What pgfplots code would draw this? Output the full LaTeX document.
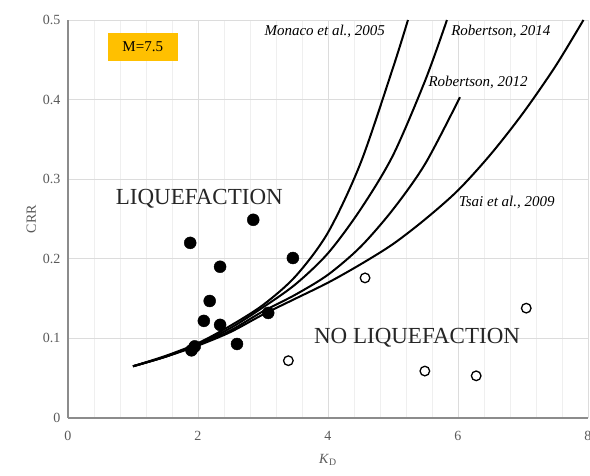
\documentclass[border=0pt]{standalone}
\usepackage{pgfplots}
\pgfplotsset{compat=1.18}
\usepackage{fontspec}
\setmainfont{Liberation Serif}
\definecolor{axgray}{HTML}{8C8C8C}
\definecolor{gridgray}{HTML}{DCDCDC}
\definecolor{mingray}{HTML}{EFEFEF}
\definecolor{tickgray}{HTML}{595959}
\definecolor{boxorange}{HTML}{FFC000}
\begin{document}
\begin{tikzpicture}[x=1pt,y=1pt]
\useasboundingbox (-68,-57) rectangle (522,418);
\begin{axis}[
  at={(0,0)}, anchor=south west,
  scale only axis, width=520pt, height=398pt,
  xmin=0, xmax=8, ymin=0, ymax=0.5,
  xtick={0,2,4,6,8}, ytick={0,0.1,0.2,0.3,0.4,0.5},
  yticklabels={0,0.1,0.2,0.3,0.4,0.5},
  minor x tick num=4,
  axis lines*=left,
  axis line style={axgray, line width=1.6pt, -},
  major tick length=0pt, minor tick length=0pt,
  xmajorgrids, ymajorgrids, xminorgrids,
  major grid style={gridgray, line width=0.8pt},
  minor grid style={mingray, line width=0.8pt},
  /pgf/number format/assume math mode=true,
  tick label style={font=\fontsize{14}{16}\selectfont, text=tickgray},
  xticklabel style={yshift=-10pt},
  yticklabel style={xshift=-4pt},
  xlabel={\textit{K}\textsubscript{D}},
  ylabel={CRR},
  label style={font=\fontsize{14}{16}\selectfont, text=tickgray},
  xlabel style={yshift=-6pt},
  ylabel style={yshift=0pt},
  clip=false,
]
% Monaco et al., 2005
\addplot[black, line width=2pt, smooth] coordinates {
(1.0,0.065) (1.5,0.078) (2.0,0.094) (2.5,0.116) (3.0,0.142) (3.5,0.178) (4.0,0.233) (4.5,0.320) (5.0,0.440) (5.23,0.50)};
% Robertson, 2014
\addplot[black, line width=2pt, smooth] coordinates {
(1.0,0.065) (1.5,0.077) (2.0,0.093) (2.5,0.113) (3.0,0.139) (3.5,0.168) (4.0,0.207) (4.5,0.262) (5.0,0.330) (5.5,0.425) (5.83,0.50)};
% Robertson, 2012
\addplot[black, line width=2pt, smooth] coordinates {
(1.0,0.065) (1.5,0.077) (2.0,0.092) (2.5,0.110) (3.0,0.134) (3.5,0.155) (4.0,0.180) (4.5,0.215) (5.0,0.262) (5.5,0.320) (6.03,0.403)};
% Tsai et al., 2009
\addplot[black, line width=2pt, smooth] coordinates {
(1.0,0.065) (1.5,0.077) (2.0,0.091) (2.5,0.108) (3.0,0.130) (3.5,0.150) (4.0,0.170) (4.5,0.193) (5.0,0.2185) (5.5,0.250) (6.0,0.286) (6.5,0.331) (7.0,0.383) (7.5,0.442) (7.93,0.50)};
% liquefaction cases
\addplot[only marks, mark=*, mark size=6pt, black] coordinates {
(1.88,0.220) (2.85,0.249) (2.34,0.190) (2.18,0.147) (2.09,0.122) (2.34,0.117) (2.60,0.093) (1.90,0.085) (1.95,0.090) (3.08,0.132) (3.46,0.201)};
% no liquefaction cases
\addplot[only marks, mark=o, mark size=4.8pt, black, line width=1.3pt] coordinates {
(3.39,0.072) (4.57,0.176) (7.05,0.138) (5.49,0.059) (6.28,0.053)};
\node[font=\fontsize{15}{17}\selectfont\itshape] at (axis cs:3.95,0.485) {Monaco et al., 2005};
\node[font=\fontsize{15}{17}\selectfont\itshape] at (axis cs:6.66,0.485) {Robertson, 2014};
\node[font=\fontsize{15}{17}\selectfont\itshape] at (axis cs:6.31,0.422) {Robertson, 2012};
\node[font=\fontsize{15}{17}\selectfont\itshape] at (axis cs:6.75,0.271) {Tsai et al., 2009};
\node[font=\fontsize{23}{26}\selectfont, text=black!85] at (axis cs:2.02,0.275) {LIQUEFACTION};
\node[font=\fontsize{23}{26}\selectfont, text=black!85] at (axis cs:5.37,0.1005) {NO LIQUEFACTION};
\node[fill=boxorange, font=\fontsize{15}{17}\selectfont, minimum width=70pt, minimum height=28pt, inner sep=0pt] at (axis cs:1.15,0.466) {M=7.5};
\end{axis}
\end{tikzpicture}
\end{document}
